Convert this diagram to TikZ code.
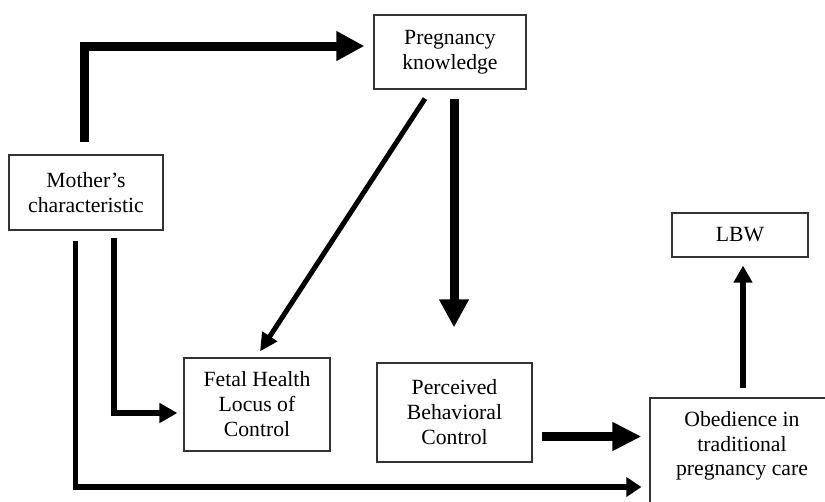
\documentclass[tikz,border=0pt]{standalone}
\usepackage{fontspec}
\setmainfont{Liberation Serif}
\usetikzlibrary{arrows.meta,calc}
\begin{document}
\begin{tikzpicture}[x=1pt,y=-1pt,
  box/.style={draw=black!80, line width=1.2pt, inner sep=0pt, align=center,
              font=\fontsize{21.7}{25}\selectfont},
  heavy/.style={line width=9pt, line join=miter, -{Triangle[length=28pt,width=28pt]}},
  medium/.style={line width=6pt, line join=miter, -{Triangle[length=18pt,width=19pt]}},
  thinarrow/.style={line width=5pt, -{Triangle[length=18pt,width=17pt]}}]
\useasboundingbox (0,0) rectangle (825,501);
\clip (0,0) rectangle (825,501);
\fill[white] (0,0) rectangle (825,501);

\node[box, minimum width=154pt, minimum height=75pt] (mother) at (86,192.5) {Mother’s\\characteristic};
\node[box, minimum width=152pt, minimum height=74pt] (preg) at (450,52) {Pregnancy\\knowledge};
\node[box, minimum width=136pt, minimum height=44pt] (lbw) at (740,235) {LBW};
\node[box, minimum width=146pt, minimum height=93pt] (fetal) at (257,404.5) {Fetal Health\\Locus of\\Control};
\node[box, minimum width=155pt, minimum height=99pt] (perc) at (454.5,412.5) {Perceived\\Behavioral\\Control};
\node[box, minimum width=190pt, minimum height=112pt] (obed) at (745,454) {};
\node[align=center, inner sep=0pt, font=\fontsize{21.7}{24.5}\selectfont] (obedtext) at (742,446) {Obedience in\\traditional\\pregnancy care};

% Mother -> Pregnancy knowledge
\coordinate (mp0) at ($(mother.north)+(-1.5,-12)$);
\coordinate (mp1) at ($(preg.west)+(-9,-6)$);
\draw[heavy] (mp0) |- (mp1);

% Pregnancy knowledge -> Perceived Behavioral Control
\coordinate (pp0) at ($(preg.south)+(4,9)$);
\coordinate (pp1) at ($(perc.north)+(-0.5,-35)$);
\draw[heavy] (pp0) -- (pp1);

% Pregnancy knowledge -> Fetal Health
\coordinate (pf0) at ($(preg.south)+(-25,9)$);
\coordinate (pf1) at ($(fetal.north)+(3,-6)$);
\draw[thinarrow] (pf0) -- (pf1);

% Mother -> Fetal Health
\coordinate (mf0) at ($(mother.south)+(28,7)$);
\coordinate (mf1) at ($(fetal.west)+(-6,8.5)$);
\draw[medium, line width=6.5pt] (mf0) |- (mf1);

% Mother -> Obedience
\coordinate (mo0) at ($(mother.south)+(-10.5,10)$);
\coordinate (mo1) at ($(obed.west)+(-8,33)$);
\draw[medium, line width=5.5pt, -{Triangle[length=15pt,width=19pt]}] (mo0) |- (mo1);

% Perceived -> Obedience
\coordinate (po0) at ($(perc.east)+(9,24)$);
\coordinate (po1) at ($(obed.west)+(-8,-17.5)$);
\draw[heavy, -{Triangle[length=29pt,width=27pt]}] (po0) -- (po1);

% Obedience -> LBW
\coordinate (ol0) at ($(obed.north)+(-2,-9)$);
\coordinate (ol1) at ($(lbw.south)+(3,8)$);
\draw[medium, -{Triangle[length=17pt,width=18pt]}] (ol0) -- (ol1);
\end{tikzpicture}
\end{document}
